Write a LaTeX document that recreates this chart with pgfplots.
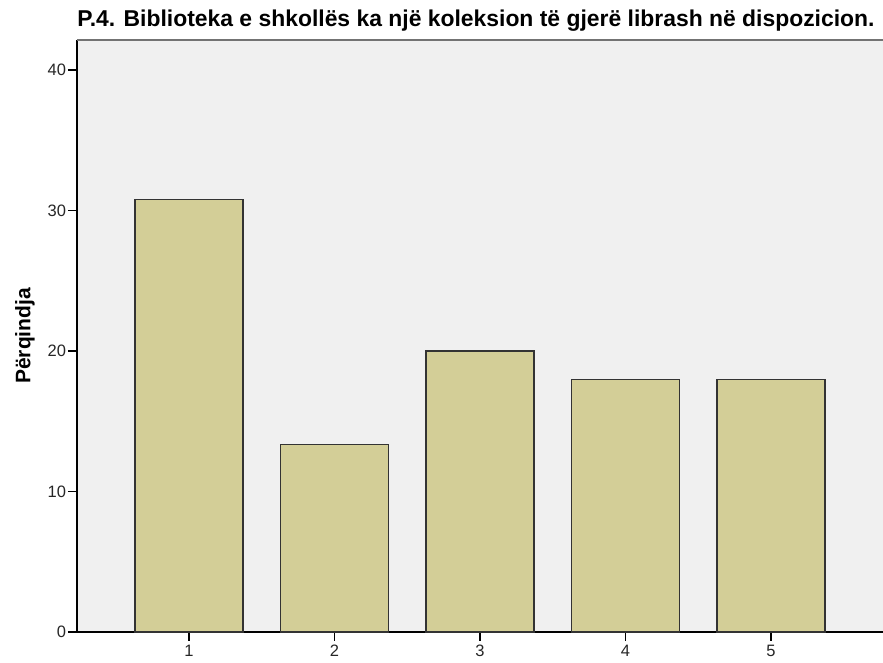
\documentclass[border=0pt]{standalone}
\usepackage{pgfplots}
\pgfplotsset{compat=1.18}
\usepackage{fontspec}
\setmainfont{Liberation Sans}
\definecolor{bgcol}{HTML}{F0F0F0}
\definecolor{barcol}{HTML}{D3CE97}
\definecolor{edgecol}{HTML}{333333}
\begin{document}
\begin{tikzpicture}
\begin{axis}[
  name=main,
  scale only axis,
  width=806pt, height=592pt,
  xmin=0.23, xmax=5.77,
  ymin=0, ymax=42.13,
  axis x line*=bottom,
  axis y line*=left,
  axis line style={black, line width=1.5pt},
  axis background/.style={fill=bgcol},
  xtick={1,2,3,4,5},
  ytick={0,10,20,30,40},
  tick align=outside,
  major tick length=9pt,
  tick style={black, line width=1.3pt},
  minor tick num=0,
  /pgf/number format/assume math mode=true,
  tick label style={font=\fontsize{16.5}{19}\selectfont, text=black!85},
  xticklabel style={font=\fontsize{16.5}{19}\selectfont, yshift=-0.5pt},
  yticklabel style={font=\fontsize{16.5}{19}\selectfont, xshift=1.5pt},
  title={P.4. Biblioteka e shkollës ka një koleksion të gjerë librash në dispozicion.},
  title style={at={(axis description cs:0.495,1)}, anchor=base, yshift=7pt,
    font=\fontsize{22.9}{26}\selectfont\bfseries},
  ylabel={Përqindja},
  ylabel style={at={(axis description cs:-0.0645,0.5)}, anchor=center,
    font=\fontsize{21}{24}\selectfont\bfseries},
  clip=false,
]
\addplot[ybar, bar width=108pt, fill=barcol, draw=edgecol, line width=1.2pt]
  coordinates {(1,30.77) (2,13.33) (3,20.00) (4,17.95) (5,17.95)};
\draw[black!55, line width=1.2pt] (rel axis cs:0,1) -- (rel axis cs:1,1);
\end{axis}
\pgfresetboundingbox
\path ([xshift=-77pt,yshift=-31pt]main.south west) rectangle ([yshift=40pt]main.north east);
\end{tikzpicture}
\end{document}
